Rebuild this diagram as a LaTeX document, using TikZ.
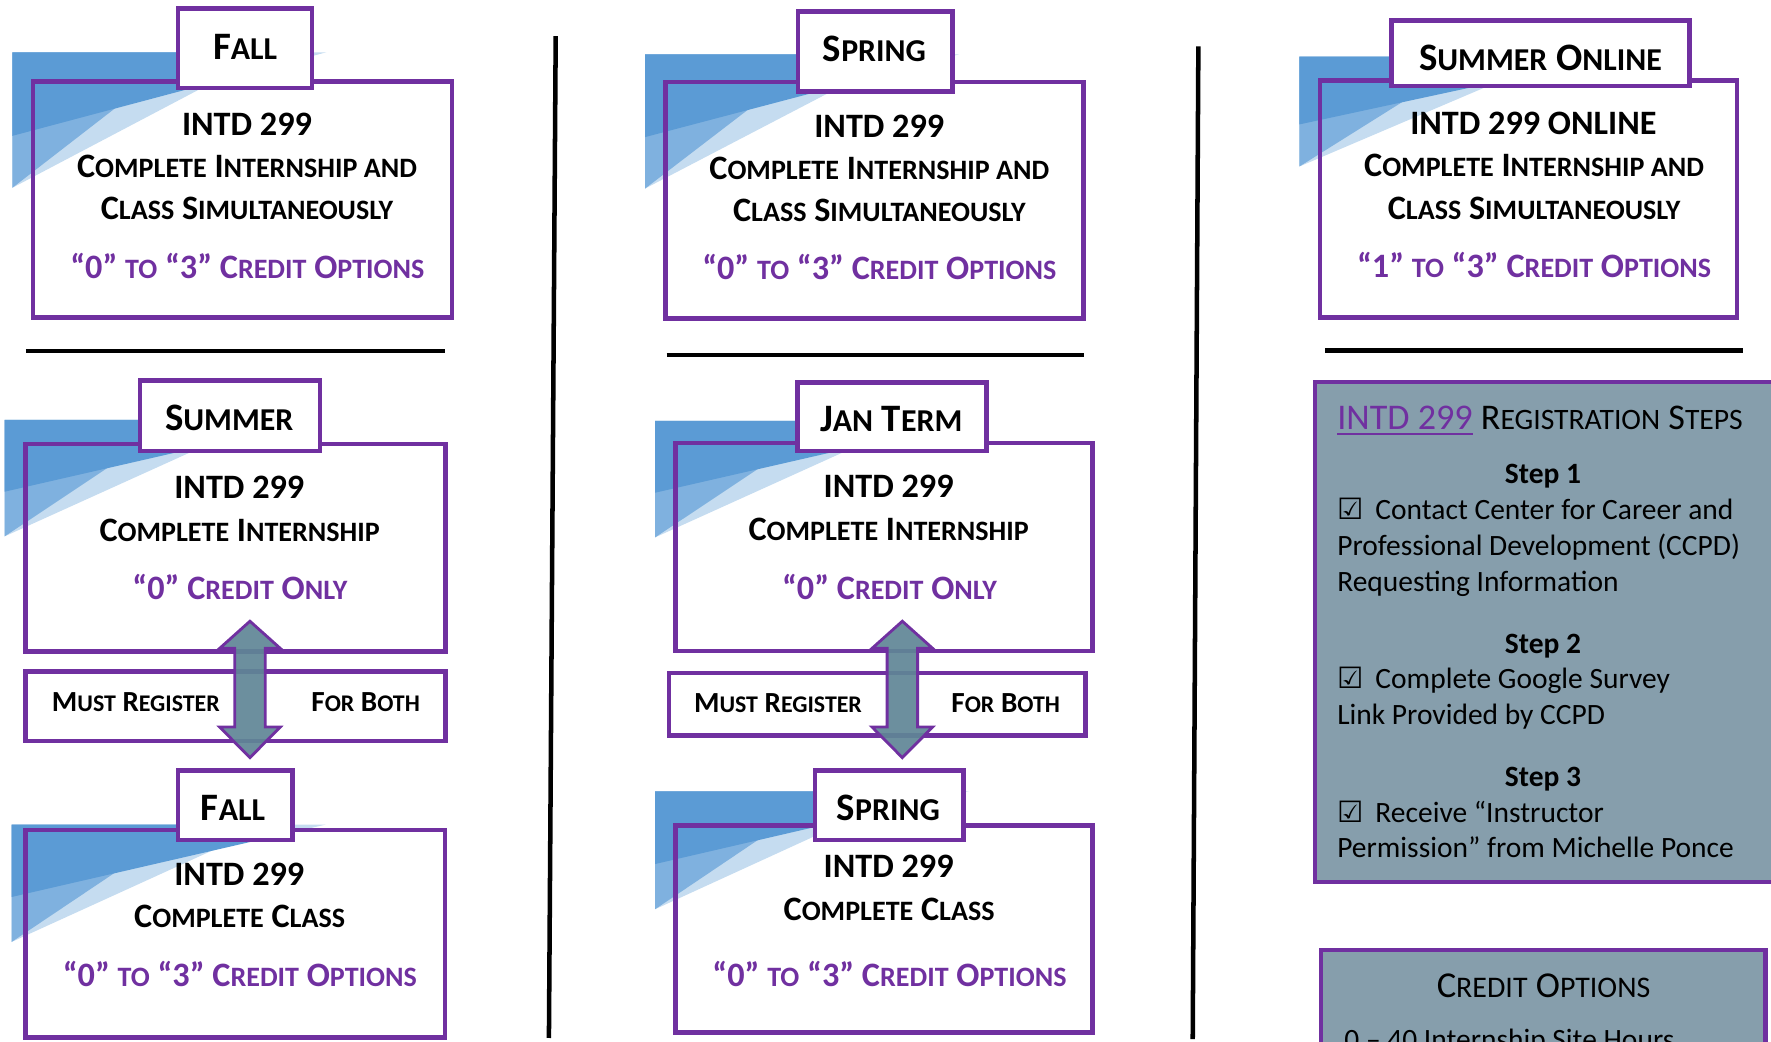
\documentclass[tikz,border=0pt]{standalone}
\usepackage{fontspec}
\setmainfont{Carlito}
\newfontfamily\symf{DejaVu Sans}
\definecolor{purp}{HTML}{7030A0}
\definecolor{bdark}{HTML}{5B9BD5}
\definecolor{bmed}{HTML}{7FB1DF}
\definecolor{blight}{HTML}{C5DCF0}
\definecolor{slate}{HTML}{869EAC}
\definecolor{arrowc}{HTML}{5F8696}
\makeatletter
\newcommand\sm[1]{{\fontsize{\strip@pt\dimexpr0.82\dimexpr\f@size pt\relax\relax}{\f@baselineskip}\selectfont #1}}
\makeatother
\newcommand\fT{\fontsize{34.4}{40}\selectfont\bfseries}
\newcommand\fB{\fontsize{30.3}{36}\selectfont\bfseries}
\newcommand\fR{\fontsize{25.8}{30}\selectfont\bfseries}
\newcommand\fH{\fontsize{32}{39}\selectfont}
\newcommand\fS{\fontsize{26.1}{31}\selectfont}
\newcommand\fC{\fontsize{32.3}{40}\selectfont}
\newcommand\ulp[1]{\setbox0\hbox{#1}\rlap{\rule[-4.5pt]{\wd0}{2pt}}\box0}
\newcommand\cb{\makebox[33.8pt][l]{\symf\fontsize{26}{30}\selectfont ☑}}
\newcommand\facetgrp[3]{%
\begin{scope}[shift={(#1,#2)}, yscale=#3]
 \fill[blight] (0,0) -- (228,0) -- (0,120) -- cycle;
 \fill[blight] (228,0) -- (278,0) -- (228,13.3) -- cycle;
 \fill[bmed] (0,0) -- (155,0) -- (0,120) -- cycle;
 \fill[bdark] (0,0) -- (228,0) -- (228,13.3) -- (0,74) -- cycle;
\end{scope}}
\newcommand\dblarrow[1]{%
\begin{scope}[shift={(#1,0)}]
 \draw[arrowst] (0,550) -- (26.8,574) -- (13.5,574) -- (13.5,643.7) -- (26.8,643.7) -- (0,670.8) -- (-26.8,643.7) -- (-13.5,643.7) -- (-13.5,574) -- (-26.8,574) -- cycle;
\end{scope}}
\begin{document}
\begin{tikzpicture}[x=1pt,y=-1pt,
  mbox/.style={draw=purp, line width=4pt, inner sep=0pt, outer sep=0pt},
  tbox/.style={mbox, fill=white},
  txt/.style={anchor=base, inner sep=0pt, outer sep=0pt},
  tt/.style={txt, font=\fT},
  bt/.style={txt, font=\fB},
  pt/.style={txt, font=\fB, text=purp},
  rt/.style={txt, font=\fR},
  st/.style={txt, anchor=base west, font=\fS},
  sb/.style={txt, font=\fS\bfseries},
  arrowst/.style={draw=purp, line width=2.5pt, fill=arrowc, fill opacity=0.92, line join=miter},
  rule/.style={line width=4pt}]
\useasboundingbox (0,0) rectangle (1568,921.7);

% background facets
\facetgrp{10.9}{46.3}{1}
\facetgrp{4.1}{371.7}{0.86}
\facetgrp{10.2}{730.1}{0.866}
\facetgrp{571.2}{48.1}{0.99}
\facetgrp{580}{372.6}{0.86}
\facetgrp{580}{700.6}{0.87}
\facetgrp{1150.5}{50.2}{0.81}

% ---------- column 1 ----------
\node[mbox, minimum width=371.1pt, minimum height=209.2pt] (m1) at (214.75,176.6) {};
\node[tbox, minimum width=118.8pt, minimum height=70.7pt] (t1) at (217,42.65) {};
\node[tt] (t1x) at (217,52.5) {F\sm{ALL}};
\node[bt] (m1a) at (218.7,120.4) {INTD 299};
\node[bt] (m1b) at (218.7,157.2) {C\sm{OMPLETE} I\sm{NTERNSHIP AND}};
\node[bt] (m1c) at (218.7,194.7) {C\sm{LASS} S\sm{IMULTANEOUSLY}};
\node[pt] (m1d) at (219,246.3) {“0” \sm{TO} “3” C\sm{REDIT} O\sm{PTIONS}};
\draw[rule] (23,310.6) -- (394,310.6);

\node[mbox, minimum width=372.1pt, minimum height=183.9pt] (m2) at (208.45,484.85) {};
\node[tbox, minimum width=159.3pt, minimum height=62.4pt] (t2) at (203.55,368) {};
\node[tt] (t2x) at (202.9,381.1) {S\sm{UMMER}};
\node[bt] (m2a) at (211.9,441) {INTD 299};
\node[bt] (m2b) at (212.2,479.4) {C\sm{OMPLETE} I\sm{NTERNSHIP}};
\node[pt] (m2c) at (212.4,530.4) {“0” C\sm{REDIT} O\sm{NLY}};
\node[mbox, minimum width=372.1pt, minimum height=61.5pt] (r1) at (208.45,625.15) {};
\node[rt, anchor=base west] (r1a) at (46,629.8) {M\sm{UST} R\sm{EGISTER}};
\node[rt, anchor=base east] (r1b) at (371.7,629.8) {F\sm{OR} B\sm{OTH}};

\node[mbox, minimum width=371.5pt, minimum height=183.4pt] (m3) at (208.15,826.7) {};
\node[tbox, minimum width=101.4pt, minimum height=61.8pt] (t3) at (208.3,712.9) {};
\node[tt] (t3x) at (206.3,726.3) {F\sm{ALL}};
\node[bt] (m3a) at (211.9,783.8) {INTD 299};
\node[bt] (m3b) at (212.2,821) {C\sm{OMPLETE} C\sm{LASS}};
\node[pt] (m3c) at (212.4,873.2) {“0” \sm{TO} “3” C\sm{REDIT} O\sm{PTIONS}};
\dblarrow{221.3}

\draw[rule] (492,32) -- (486,919);

% ---------- column 2 ----------
\node[mbox, minimum width=370.2pt, minimum height=209pt] (m4) at (774.4,177.3) {};
\node[tbox, minimum width=136.7pt, minimum height=70.9pt] (t4) at (774.85,45.75) {};
\node[tt] (t4x) at (774.2,54.6) {S\sm{PRING}};
\node[bt] (m4a) at (778.5,121.5) {INTD 299};
\node[bt] (m4b) at (778.5,159.3) {C\sm{OMPLETE} I\sm{NTERNSHIP AND}};
\node[bt] (m4c) at (778.5,196.2) {C\sm{LASS} S\sm{IMULTANEOUSLY}};
\node[pt] (m4d) at (778.5,247.8) {“0” \sm{TO} “3” C\sm{REDIT} O\sm{PTIONS}};
\draw[rule] (590.1,314.2) -- (959.9,314.2);

\node[mbox, minimum width=369.2pt, minimum height=183.9pt] (m5) at (782.8,484.25) {};
\node[tbox, minimum width=167.7pt, minimum height=60.9pt] (t5) at (789.75,369.05) {};
\node[tt] (t5x) at (789.1,382) {J\sm{AN} T\sm{ERM}};
\node[bt] (m5a) at (786.8,440.4) {INTD 299};
\node[bt] (m5b) at (786.8,478.8) {C\sm{OMPLETE} I\sm{NTERNSHIP}};
\node[pt] (m5c) at (787.5,530.4) {“0” C\sm{REDIT} O\sm{NLY}};
\node[mbox, minimum width=368.6pt, minimum height=55.6pt] (r2) at (776.6,623.6) {};
\node[rt, anchor=base west] (r2a) at (614.5,630.7) {M\sm{UST} R\sm{EGISTER}};
\node[rt, anchor=base east] (r2b) at (938.4,630.7) {F\sm{OR} B\sm{OTH}};

\node[mbox, minimum width=369.2pt, minimum height=183.3pt] (m6) at (782.8,822.35) {};
\node[tbox, minimum width=131.7pt, minimum height=61.8pt] (t6) at (787.35,712.9) {};
\node[tt] (t6x) at (786.5,726.3) {S\sm{PRING}};
\node[bt] (m6a) at (786.8,777.3) {INTD 299};
\node[bt] (m6b) at (787.2,815.1) {C\sm{OMPLETE} C\sm{LASS}};
\node[pt] (m6c) at (787.5,873.8) {“0” \sm{TO} “3” C\sm{REDIT} O\sm{PTIONS}};
\dblarrow{798.9}

\draw[rule] (1061,41) -- (1056,920);

% ---------- column 3 ----------
\node[mbox, minimum width=369.3pt, minimum height=209.9pt] (m7) at (1353.35,176.25) {};
\node[tbox, minimum width=263.8pt, minimum height=58pt] (t7) at (1364.1,47.2) {};
\node[tt] (t7x) at (1363.9,62.5) {S\sm{UMMER} O\sm{NLINE}};
\node[bt] (m7a) at (1357.6,119.5) {INTD 299 ONLINE};
\node[bt] (m7b) at (1358.2,156.4) {C\sm{OMPLETE} I\sm{NTERNSHIP AND}};
\node[bt] (m7c) at (1358.2,194.7) {C\sm{LASS} S\sm{IMULTANEOUSLY}};
\node[pt] (m7d) at (1358.2,245.4) {“1” \sm{TO} “3” C\sm{REDIT} O\sm{PTIONS}};
\draw[rule] (1173.5,310.4) -- (1542.8,310.4);

\node[mbox, fill=slate, minimum width=433.7pt, minimum height=443pt] (reg) at (1381.15,559.5) {};
\node[txt, anchor=base west, font=\fH] (rh) at (1184,380.6) {{\color{purp}\ulp{INTD 299}} R\sm{EGISTRATION} S\sm{TEPS}};
\node[sb] (s1) at (1366.1,428.4) {Step 1};
\node[st] (s1a) at (1184,460) {\cb Contact Center for Career and};
\node[st] (s1b) at (1184,492) {Professional Development (CCPD)};
\node[st] (s1c) at (1184,523.6) {Requesting Information};
\node[sb] (s2) at (1366.1,578.2) {Step 2};
\node[st] (s2a) at (1184,610) {\cb Complete Google Survey};
\node[st] (s2b) at (1184,641.6) {Link Provided by CCPD};
\node[sb] (s3) at (1366.1,696.2) {Step 3};
\node[st] (s3a) at (1184,728) {\cb Receive “Instructor};
\node[st] (s3b) at (1184,759.6) {Permission” from Michelle Ponce};

\node[mbox, fill=slate, minimum width=393.4pt, minimum height=116.7pt] (co) at (1366.3,899.65) {};
\node[txt, font=\fC] (coh) at (1366.6,883.5) {C\sm{REDIT} O\sm{PTIONS}};
\node[st] (co1) at (1190.3,929.2) {0 – 40 Internship Site Hours};
\end{tikzpicture}
\end{document}
